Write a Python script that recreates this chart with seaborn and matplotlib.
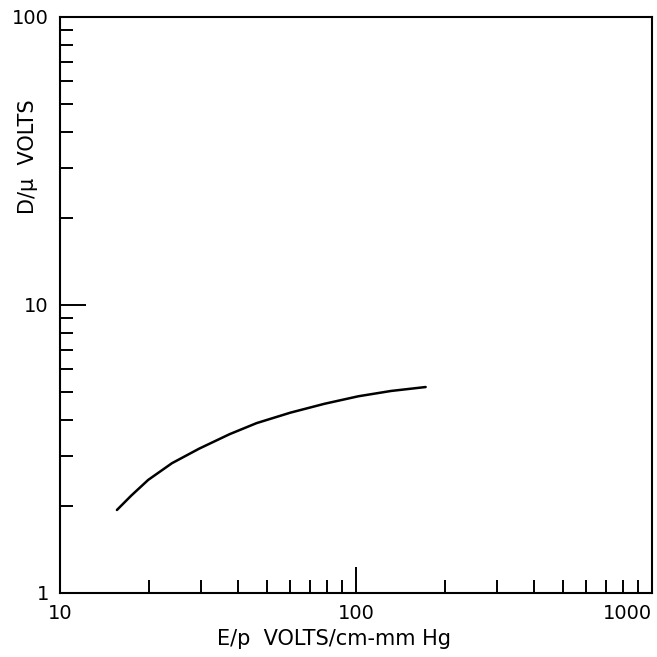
import numpy as np
import pandas as pd
import matplotlib
matplotlib.use("Agg")
import matplotlib.pyplot as plt
import seaborn as sns
from matplotlib.ticker import LogLocator, NullFormatter, FixedLocator, FixedFormatter

# Data (E/p in V/cm-mmHg, D/mu in volts)
e_over_p = [15.57, 17.4, 19.86, 23.88, 29.5, 37.41, 46.17, 60.1, 78.3, 101.8, 131.4, 171.9]
d_over_mu = [1.942, 2.178, 2.47, 2.822, 3.17, 3.56, 3.89, 4.23, 4.54, 4.82, 5.03, 5.19]

x_ticks = [10, 100, 1000]
x_tick_labels = ["10", "100", "1000"]
y_ticks = [1, 10, 100]
y_tick_labels = ["1", "10", "100"]

sns.set_style("ticks")
plt.rcParams["font.family"] = ["DejaVu Sans"]

fig = plt.figure(figsize=(6.57, 6.57), dpi=100)
ax = fig.add_axes([60 / 657, 1 - 593 / 657, 592 / 657, 576 / 657])

df = pd.DataFrame({"E/p": e_over_p, "D/mu": d_over_mu})
sns.lineplot(data=df, x="E/p", y="D/mu", ax=ax, color="black", linewidth=1.8)

ax.set_xscale("log")
ax.set_yscale("log")
ax.set_xlim(10, 1000)
ax.set_ylim(1, 100)

ax.xaxis.set_major_locator(FixedLocator(x_ticks))
ax.xaxis.set_major_formatter(FixedFormatter(x_tick_labels))
ax.yaxis.set_major_locator(FixedLocator(y_ticks))
ax.yaxis.set_major_formatter(FixedFormatter(y_tick_labels))
ax.xaxis.set_minor_locator(LogLocator(base=10, subs=np.arange(2, 10)))
ax.yaxis.set_minor_locator(LogLocator(base=10, subs=np.arange(2, 10)))
ax.xaxis.set_minor_formatter(NullFormatter())
ax.yaxis.set_minor_formatter(NullFormatter())

ax.tick_params(which="major", direction="in", length=19, width=1.4,
               labelsize=14, pad=8, colors="black")
ax.tick_params(which="minor", direction="in", length=9.5, width=1.4, colors="black")
ax.tick_params(top=False, right=False, which="both")

for s in ax.spines.values():
    s.set_linewidth(1.5)
    s.set_color("black")

fig.canvas.draw()
xl = ax.get_xticklabels()
xl[-1].set_horizontalalignment("right")
xl[-1].set_x(1000)

ax.set_xlabel("E/p  VOLTS/cm-mm Hg", fontsize=15, color="black")
ax.set_ylabel("D/\u03bc  VOLTS", fontsize=15, color="black")
ax.xaxis.set_label_coords(0.463, -0.062)
ax.yaxis.set_label_coords(-0.038, 0.757)

ax.grid(False)
fig.savefig("out.png", dpi=100)
